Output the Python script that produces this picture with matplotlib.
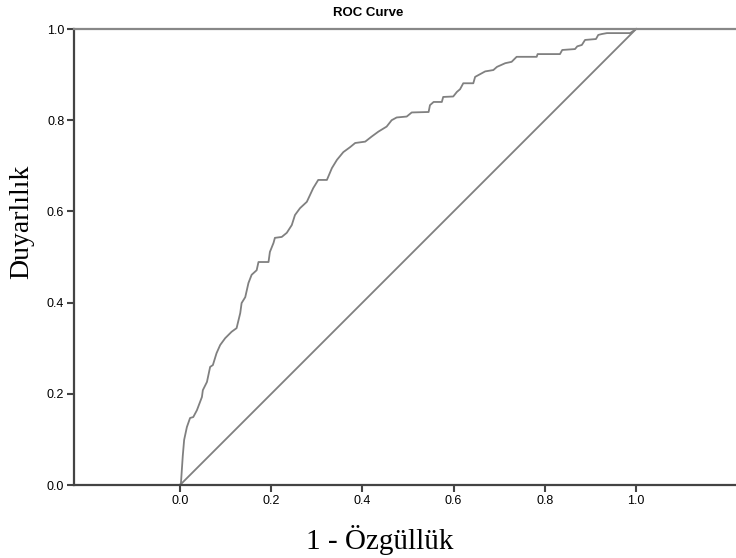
import matplotlib
matplotlib.use('Agg')
import matplotlib.pyplot as plt

# ROC eğrisi değerleri (1 - özgüllük, duyarlılık)
fpr = [0.0, 0.002, 0.006, 0.009, 0.015, 0.022, 0.029, 0.037, 0.048, 0.050,
       0.059, 0.066, 0.072, 0.080, 0.088, 0.099, 0.113, 0.124, 0.132, 0.135,
       0.143, 0.150, 0.157, 0.168, 0.172, 0.194, 0.197, 0.205, 0.208, 0.223,
       0.234, 0.245, 0.252, 0.263, 0.278, 0.292, 0.303, 0.322, 0.333, 0.344,
       0.358, 0.373, 0.384, 0.406, 0.420, 0.435, 0.453, 0.464, 0.475, 0.497,
       0.508, 0.545, 0.548, 0.556, 0.574, 0.577, 0.599, 0.607, 0.614, 0.621,
       0.643, 0.647, 0.658, 0.669, 0.687, 0.695, 0.713, 0.727, 0.738, 0.782,
       0.784, 0.833, 0.838, 0.866, 0.871, 0.881, 0.888, 0.912, 0.917, 0.925,
       0.936, 0.987, 1.0]
tpr = [0.0, 0.004, 0.064, 0.099, 0.127, 0.147, 0.149, 0.164, 0.193, 0.208,
       0.226, 0.259, 0.263, 0.289, 0.307, 0.322, 0.336, 0.344, 0.377, 0.399,
       0.412, 0.443, 0.461, 0.471, 0.489, 0.489, 0.511, 0.531, 0.542, 0.544,
       0.553, 0.570, 0.592, 0.607, 0.621, 0.651, 0.669, 0.669, 0.695, 0.713,
       0.730, 0.741, 0.750, 0.753, 0.764, 0.775, 0.786, 0.800, 0.806, 0.808,
       0.817, 0.818, 0.833, 0.840, 0.840, 0.851, 0.852, 0.862, 0.868, 0.881,
       0.881, 0.895, 0.901, 0.907, 0.910, 0.917, 0.925, 0.928, 0.939, 0.939,
       0.945, 0.945, 0.954, 0.956, 0.962, 0.965, 0.976, 0.978, 0.987, 0.989,
       0.991, 0.991, 1.0]

ref_line = [0.0, 1.0]
ticks = [0.0, 0.2, 0.4, 0.6, 0.8, 1.0]

fig = plt.figure(figsize=(7.36, 5.58), dpi=100)
ax = fig.add_axes([74 / 736, 1 - 485 / 558, 1 - 74 / 736, 456 / 558])

ax.plot(fpr, tpr, color='#808080', lw=1.3, clip_on=False)
ax.plot(ref_line, ref_line, color='#808080', lw=1.3, clip_on=False)

ax.set_xlim(-0.2325, 1.219)
ax.set_ylim(0, 1)
ax.set_xticks(ticks)
ax.set_yticks(ticks)
ax.set_xticklabels([f'{t:.1f}' for t in ticks], fontfamily='Liberation Sans', fontsize=9)
ax.set_yticklabels([f'{t:.1f}' for t in ticks], fontfamily='Liberation Sans', fontsize=9)
ax.tick_params(length=5, width=1.5, color='#444444', pad=2)

for side in ['left', 'bottom']:
    ax.spines[side].set_color('#444444')
    ax.spines[side].set_linewidth(1.6)
ax.spines['right'].set_visible(False)
ax.spines['top'].set_color('#888888')
ax.spines['top'].set_linewidth(1.6)

fig.text(0.5, 1 - 13 / 558, 'ROC Curve', ha='center', va='center',
         fontfamily='Liberation Sans', fontweight='bold', fontsize=9.5)
fig.text(380 / 736, 1 - 540 / 558, '1 - Özgüllük', ha='center', va='center',
         fontfamily='Liberation Serif', fontsize=21)
fig.text(22 / 736, 1 - 222 / 558, 'Duyarlılık', ha='center', va='center',
         rotation=90, fontfamily='Liberation Serif', fontsize=20)

fig.savefig('out.png', dpi=100)
